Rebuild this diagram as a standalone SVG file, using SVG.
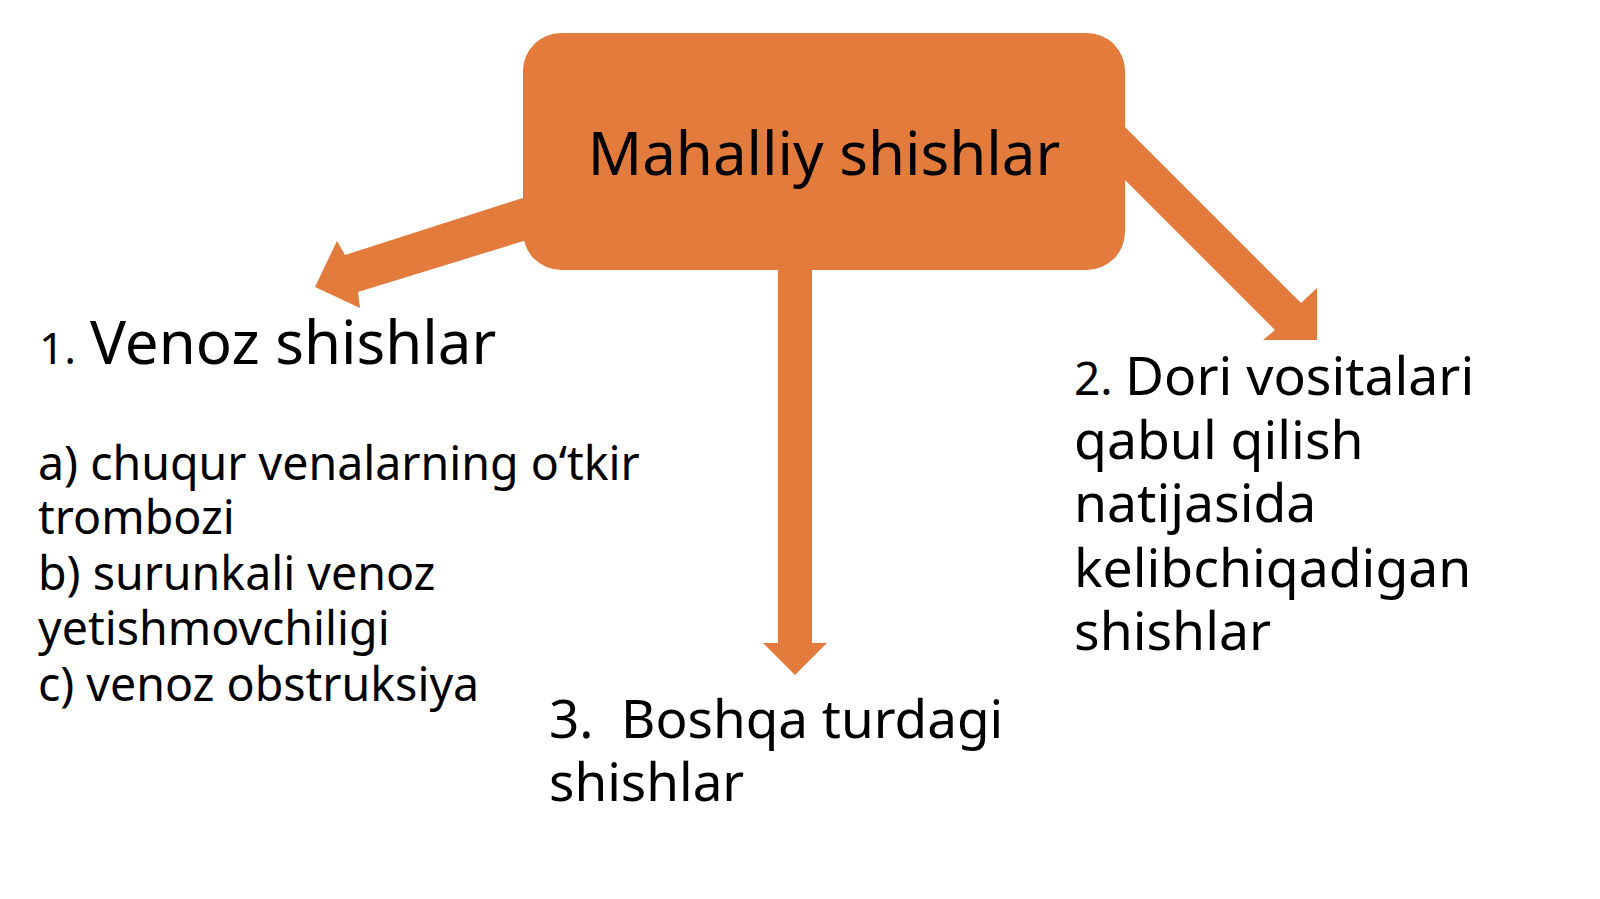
<svg xmlns="http://www.w3.org/2000/svg" width="1600" height="899" viewBox="0 0 1600 899">
<style>
.t{font-family:"Noto Sans","Open Sans","DejaVu Sans",sans-serif;fill:#000}
.o{fill:#E27B3B}
.l{font-size:46.5px}
.r{font-size:53.5px}
.b{font-size:53px}
</style>
<rect width="1600" height="899" fill="#fff"/>
<g id="connectors">
<polygon class="o" points="535,194 345,255 337,241 315,287 360,308 358,292 540,236"/>
<polygon class="o" points="1110,112 1301,303 1317,288 1317,340 1263,340 1275,330 1110,165"/>
<polygon class="o" points="778,255 812,255 812,643 827,643 795,675 763,643 778,643"/>
</g>
<g id="node-main">
<rect class="o" x="523" y="33" width="602" height="237" rx="38"/>
<text class="t" x="824" y="175" font-size="60" text-anchor="middle">Mahalliy shishlar</text>
</g>
<g id="node-1">
<text class="t" x="39" y="364" font-size="44">1.</text>
<text class="t" x="90" y="364" font-size="60">Venoz shishlar</text>
<text class="t l" x="38" y="480">a) chuqur venalarning o‘tkir</text>
<text class="t l" x="38" y="534">trombozi</text>
<text class="t l" x="38" y="590">b) surunkali venoz</text>
<text class="t l" x="38" y="645">yetishmovchiligi</text>
<text class="t l" x="38" y="701">c) venoz obstruksiya</text>
</g>
<g id="node-2">
<text class="t" x="1074" y="395" font-size="46">2.</text>
<text class="t r" x="1125" y="395">Dori vositalari</text>
<text class="t r" x="1074" y="459">qabul qilish</text>
<text class="t r" x="1074" y="522">natijasida</text>
<text class="t r" x="1074" y="587">kelibchiqadigan</text>
<text class="t r" x="1074" y="650">shishlar</text>
</g>
<g id="node-3">
<text class="t b" x="549" y="738" xml:space="preserve">3.  Boshqa turdagi</text>
<text class="t b" x="549" y="801">shishlar</text>
</g>
</svg>
